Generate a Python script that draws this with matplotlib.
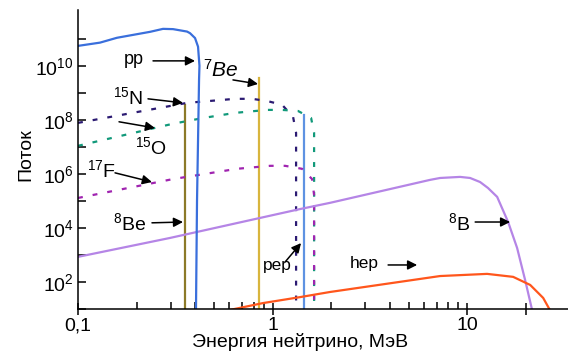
import numpy as np
import matplotlib.pyplot as plt
from matplotlib.ticker import FixedLocator, FixedFormatter, NullFormatter

plt.rcParams['font.family'] = ['Liberation Sans', 'DejaVu Sans']
plt.rcParams['mathtext.fontset'] = 'custom'
plt.rcParams['mathtext.rm'] = 'Liberation Sans'
plt.rcParams['mathtext.it'] = 'Liberation Sans:italic'

# энергия (МэВ) и lg(поток)
pp_E = [0.1, 0.1297, 0.1586, 0.2346, 0.2735, 0.308, 0.3634, 0.3765, 0.3995, 0.414,
        0.421, 0.419, 0.409, 0.404]
pp_lg = [10.74, 10.86, 11.04, 11.26, 11.37, 11.36, 11.27, 11.21, 11.03, 10.71,
         10.0, 9.5, 5.0, 0.95]

n15_E = [0.1, 0.3634, 0.6416, 0.7844, 0.937, 1.119, 1.275, 1.321, 1.321]
n15_lg = [7.89, 8.63, 8.78, 8.78, 8.70, 8.56, 8.11, 7.52, 0.95]

o15_E = [0.1, 0.3043, 0.4393, 0.6416, 0.937, 1.119, 1.352, 1.578, 1.635, 1.635]
o15_lg = [7.04, 7.85, 8.07, 8.26, 8.37, 8.37, 8.33, 8.07, 7.52, 0.95]

f17_E = [0.1, 0.308, 0.4497, 0.657, 0.971, 1.16, 1.418, 1.596, 1.635, 1.635]
f17_lg = [5.11, 5.81, 6.0, 6.19, 6.30, 6.30, 6.19, 5.81, 5.22, 0.95]

b8_E = [0.1, 0.297, 1.385, 1.975, 6.45, 7.26, 9.2, 10.36, 11.66, 12.8, 14.27, 16.25, 18.07, 19.87, 21.6]
b8_lg = [2.93, 3.63, 4.70, 4.93, 5.78, 5.85, 5.89, 5.85, 5.70, 5.48, 5.15, 4.22, 3.26, 2.07, 0.95]

hep_E = [0.59, 0.894, 1.385, 1.975, 7.26, 12.67, 17.24, 21.1, 24.6, 26.7]
hep_lg = [0.95, 1.22, 1.44, 1.63, 2.22, 2.30, 2.19, 1.89, 1.41, 0.95]

# линии: энергия, lg(вершина)
be7_low_E, be7_low_lg = 0.355, 8.556
be7_high_E, be7_high_lg = 0.852, 9.556
pep_E, pep_lg = 1.452, 8.185

fig = plt.figure(figsize=(5.68, 3.56), dpi=100)
ax = fig.add_axes([78 / 568, 47 / 356, 490 / 568, 299 / 356])

lw = 1.6
dash = (2.2, 4.5)

ax.plot([be7_low_E, be7_low_E], [10, 10 ** be7_low_lg], color='#8c7a28', lw=lw)
ax.plot([be7_high_E, be7_high_E], [10, 10 ** be7_high_lg], color='#d8b53e', lw=lw)
ax.plot([pep_E, pep_E], [10, 10 ** pep_lg], color='#5e92e2', lw=lw)

ax.plot(n15_E, 10 ** np.array(n15_lg), color='#2b1a72', lw=lw, dashes=dash)
ax.plot(o15_E, 10 ** np.array(o15_lg), color='#11997a', lw=lw, dashes=dash)
ax.plot(f17_E, 10 ** np.array(f17_lg), color='#a024b0', lw=lw, dashes=dash)

ax.plot(b8_E, 10 ** np.array(b8_lg), color='#b585e6', lw=lw)
ax.plot(hep_E, 10 ** np.array(hep_lg), color='#ff561c', lw=lw)
ax.plot(pp_E, 10 ** np.array(pp_lg), color='#3a6fdc', lw=lw)

ax.set_xscale('log')
ax.set_yscale('log')
ax.set_xlim(0.1, 33)
ax.set_ylim(10, 1.17e12)

for s in ['top', 'right']:
    ax.spines[s].set_visible(False)
for s in ['left', 'bottom']:
    ax.spines[s].set_linewidth(1.1)

ax.xaxis.set_major_locator(FixedLocator([0.1, 1, 10, 20]))
ax.xaxis.set_major_formatter(FixedFormatter(['0,1', '1', '10', '']))
ax.xaxis.set_minor_locator(FixedLocator([0.2, 0.3, 0.4, 0.5, 0.6, 0.7, 0.8, 0.9,
                                         2, 3, 4, 5, 6, 7, 8, 9]))
ax.xaxis.set_minor_formatter(NullFormatter())
ax.tick_params(axis='x', which='major', direction='inout', length=8, width=1.1,
               labelsize=14, pad=2)
ax.tick_params(axis='x', which='minor', direction='in', length=5, width=1.1)

ydec = [10 ** k for k in range(1, 12)]
ax.yaxis.set_major_locator(FixedLocator(ydec))
ax.yaxis.set_major_formatter(FixedFormatter(
    ['' if k % 2 else r'$10^{%d}$' % k for k in range(1, 12)]))
ax.yaxis.set_minor_locator(FixedLocator([]))
ax.tick_params(axis='y', which='major', direction='in', length=6, width=1.1,
               labelsize=14, pad=3)

ax.set_xlabel('Энергия нейтрино, МэВ', fontsize=14)
ax.xaxis.set_label_coords(0.453, -0.08)
ax.set_ylabel('Поток', fontsize=14)
ax.yaxis.set_label_coords(-0.09, 0.515)


def arrow(tail, head):
    ax.annotate('', xy=(head[0], 10 ** head[1]), xytext=(tail[0], 10 ** tail[1]),
                arrowprops=dict(arrowstyle='-|>', color='k', lw=1.1,
                                mutation_scale=14, shrinkA=0, shrinkB=0))


def label(x, lg, s, size=14, **kw):
    ax.text(x, 10 ** lg, s, fontsize=size, ha='left', va='center', **kw)


label(0.172, 10.22, 'pp', size=13)
arrow((0.243, 10.185), (0.3995, 10.185))
label(0.4393, 9.85, r'$^{7}$Be', size=15, style='italic')
arrow((0.626, 9.48), (0.842, 9.33))
label(0.1514, 8.85, r'$^{15}$N')
arrow((0.229, 8.78), (0.3466, 8.63))
label(0.1963, 7.0, r'$^{15}$O')
arrow((0.1625, 7.93), (0.2488, 7.70))
label(0.1113, 6.15, r'$^{17}$F')
arrow((0.155, 6.04), (0.240, 5.70))
label(0.1514, 4.19, r'$^{8}$Be')
arrow((0.240, 4.19), (0.3466, 4.22))
label(0.894, 2.6, 'pep', size=12.5)
arrow((1.16, 2.74), (1.401, 3.44))
label(2.503, 2.70, 'hep', size=12.5)
arrow((3.925, 2.63), (5.535, 2.63))
label(7.98, 4.19, r'$^{8}$B')
arrow((11.0, 4.22), (16.64, 4.22))

fig.savefig('out.png', dpi=100)
